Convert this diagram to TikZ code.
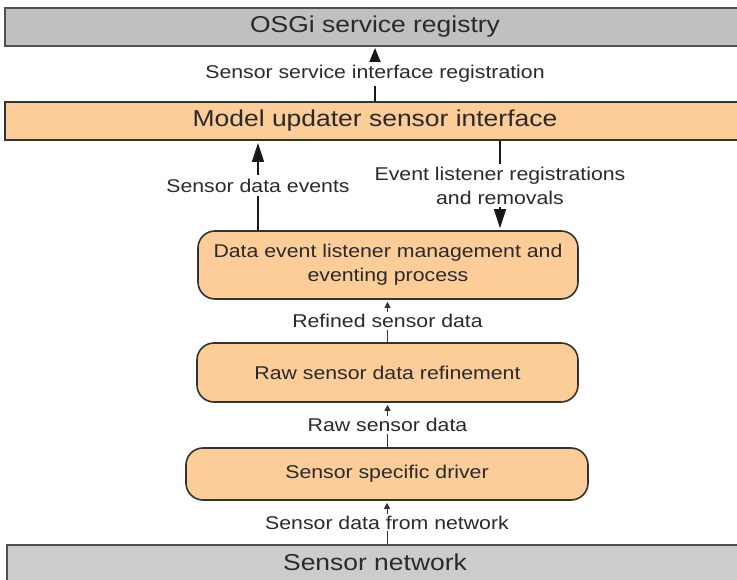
\documentclass[tikz,border=0pt]{standalone}
\usepackage{fontspec}
\setmainfont{Liberation Sans}[FakeStretch=1.15]
\usetikzlibrary{arrows.meta}
\definecolor{regfill}{HTML}{C0C0C0}
\definecolor{netfill}{HTML}{CCCCCC}
\definecolor{orfill}{HTML}{FCCC99}
\definecolor{edge}{HTML}{505050}
\definecolor{txt}{HTML}{2A2A2A}
\tikzset{
  bar/.style={draw=edge, line width=2pt, minimum height=38pt, minimum width=740pt, inner sep=0pt, text=txt, font=\fontsize{23}{27}\selectfont},
  procbox/.style={draw=black!80, line width=1.6pt, rounded corners=17pt, fill=orfill, inner sep=0pt, text=txt, align=center, font=\fontsize{18.5}{24}\selectfont},
  lbl/.style={fill=white, inner sep=2pt, text=txt, align=center, font=\fontsize{18.5}{24}\selectfont},
  arrbig/.style={draw=black!90, line width=1.5pt, shorten >=2pt, -{Triangle[width=12pt,length=19pt]}},
  arrmid/.style={draw=black!90, line width=1.3pt, shorten >=1pt, -{Triangle[width=12pt,length=15pt]}},
  arrsmall/.style={draw=black!80, line width=1pt, shorten >=2pt, -{Triangle[width=6pt,length=6pt]}}
}
\begin{document}
\begin{tikzpicture}[x=1pt,y=-1pt]
\useasboundingbox (0,0) rectangle (737,580);
\clip (0,0) rectangle (737,580);
\fill[white] (0,0) rectangle (737,580);
\node[bar, fill=regfill] (osgi) at (375,27) {OSGi service registry};
\node[bar, fill=orfill, draw=black!80] (mus) at (375,121) {Model updater sensor interface};
\node[procbox, minimum width=380pt, minimum height=68pt] (del) at (388,265) {Data event listener management and\\eventing process};
\node[procbox, minimum width=381pt, minimum height=59pt] (raw) at (387.5,372.5) {Raw sensor data refinement};
\node[procbox, minimum width=402pt, minimum height=52pt] (drv) at (387,474) {Sensor specific driver};
\node[bar, fill=netfill, minimum height=40pt] (net) at (376.5,565) {};
\node[text=txt, font=\fontsize{23}{27}\selectfont] (netlabel) at (375,562) {Sensor network};

\draw[arrmid] (mus.north) -- node[lbl, inner sep=3pt] {Sensor service interface registration} (osgi.south);
\coordinate (lft) at ([xshift=-130pt]del.north);
\coordinate (rgt) at ([xshift=112pt]del.north);
\draw[arrbig] (lft) -- node[lbl, inner sep=4pt] {Sensor data events} (mus.south -| lft);
\draw[arrbig] (mus.south -| rgt) -- node[lbl, inner sep=3pt] {Event listener registrations\\and removals} (rgt);
\draw[arrsmall] (raw.north) -- node[lbl] {Refined sensor data} (del.south -| raw.north);
\draw[arrsmall] (drv.north -| raw.south) -- node[lbl] {Raw sensor data} (raw.south);
\draw[arrsmall] (net.north -| drv.south) -- node[lbl] {Sensor data from network} (drv.south);
\end{tikzpicture}
\end{document}
